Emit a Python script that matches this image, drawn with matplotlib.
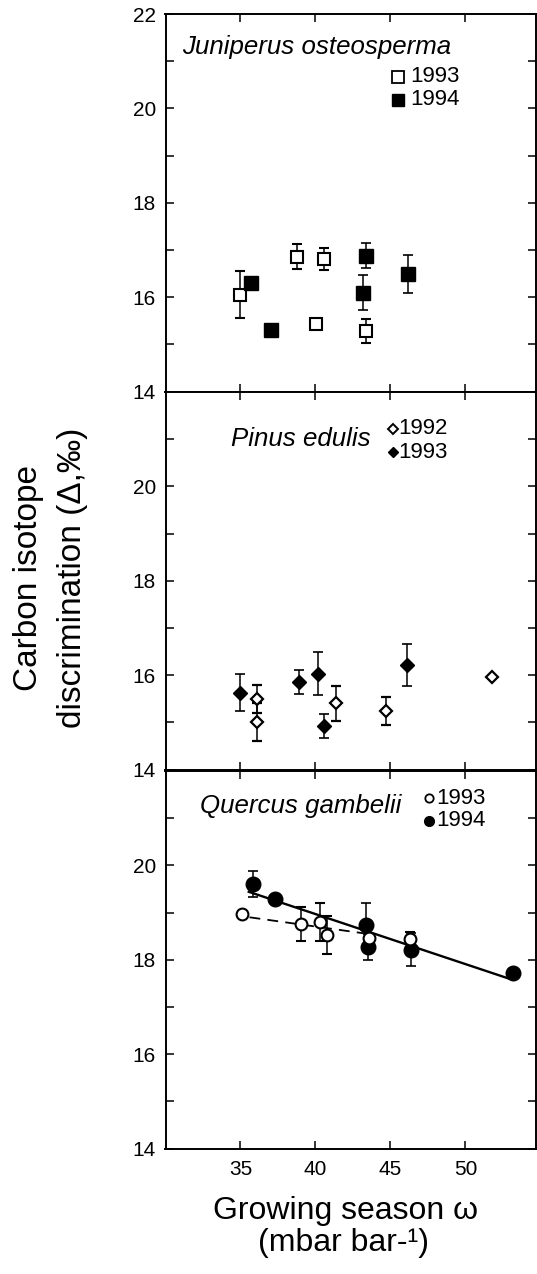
import matplotlib
matplotlib.use("Agg")
import matplotlib.pyplot as plt
import numpy as np

plt.rcParams['font.family'] = ['Liberation Sans', 'DejaVu Sans']

# ---------------- data ----------------
# Juniperus osteosperma
juni93_x = [35.0, 38.8, 40.6, 40.05, 43.4]
juni93_y = [16.05, 16.86, 16.81, 15.42, 15.28]
juni93_e = [0.50, 0.27, 0.24, 0.0, 0.25]
juni94_x = [35.7, 37.05, 43.4, 43.2, 46.2]
juni94_y = [16.30, 15.31, 16.88, 16.09, 16.49]
juni94_e = [0.0, 0.0, 0.26, 0.37, 0.40]

# Pinus edulis
pinu92_x = [36.1, 36.1, 41.4, 44.7, 51.8]
pinu92_y = [15.50, 15.00, 15.40, 15.24, 15.97]
pinu92_e = [0.30, 0.40, 0.38, 0.30, 0.0]
pinu93_x = [35.0, 38.9, 40.15, 40.6, 46.1]
pinu93_y = [15.63, 15.86, 16.03, 14.92, 16.22]
pinu93_e = [0.40, 0.25, 0.45, 0.25, 0.45]

# Quercus gambelii
quer93_x = [35.1, 39.05, 40.3, 40.8, 43.6, 46.3]
quer93_y = [18.98, 18.75, 18.80, 18.52, 18.47, 18.43]
quer93_e = [0.0, 0.36, 0.40, 0.40, 0.0, 0.15]
quer94_x = [35.85, 37.3, 43.35, 43.5, 46.35, 53.2]
quer94_y = [19.61, 19.29, 18.73, 18.27, 18.21, 17.72]
quer94_e = [0.28, 0.0, 0.47, 0.28, 0.35, 0.0]

# regression lines (endpoints)
fit94_x = [35.55, 52.9]
fit94_y = [19.44, 17.60]
fit93_x = [35.6, 43.45]
fit93_y = [18.90, 18.55]

xticks = [35, 40, 45, 50]

# ---------------- figure ----------------
W, H = 537, 1274
fig = plt.figure(figsize=(W / 100, H / 100), dpi=100)

left = 165.5 / W
right = 536.0 / W
tops = [14, 392, 771]
ph = 377.5
axes = []
for t in tops:
    ax = fig.add_axes([left, 1 - (t + ph) / H, right - left, ph / H])
    axes.append(ax)

LW = 1.4
for i, ax in enumerate(axes):
    ax.set_xlim(30, 54.7)
    ax.set_ylim(14, 22)
    ax.set_xticks(xticks)
    if i == 0:
        ax.set_yticks([14, 16, 18, 20, 22])
    else:
        ax.set_yticks([14, 16, 18, 20])
    ax.set_yticks(np.arange(15, 22, 2), minor=True)
    ax.tick_params(axis='both', which='both', direction='in', top=True, right=True,
                   length=6, width=1.1, labelsize=15)
    ax.tick_params(axis='y', pad=7)
    ax.tick_params(axis='x', pad=8)
    if i < 2:
        ax.tick_params(axis='x', labelbottom=False)
    for s in ax.spines.values():
        s.set_linewidth(LW)

eb_kw = dict(ecolor='black', elinewidth=1.1, capsize=3.8, capthick=1.2, linestyle='none', zorder=3)
LEG = 16
SP = 18.6

# Juniperus
ax = axes[0]
ax.errorbar(juni93_x, juni93_y, yerr=juni93_e, marker='s', ms=9, mfc='white', mec='black', mew=1.5, **eb_kw)
ax.errorbar(juni94_x, juni94_y, yerr=juni94_e, marker='s', ms=10, mfc='black', mec='black', **eb_kw)
ax.text(31.1, 21.3, 'Juniperus osteosperma', fontsize=SP, style='italic', va='center', ha='left')
ax.plot([45.5], [20.67], marker='s', ms=8, mfc='white', mec='black', mew=1.3, ls='none')
ax.plot([45.5], [20.18], marker='s', ms=8.5, mfc='black', mec='black', ls='none')
ax.text(46.35, 20.67, '1993', fontsize=LEG, va='center', ha='left')
ax.text(46.35, 20.18, '1994', fontsize=LEG, va='center', ha='left')

# Pinus
ax = axes[1]
ax.errorbar(pinu92_x, pinu92_y, yerr=pinu92_e, marker='D', ms=6, mfc='white', mec='black', mew=1.6, **eb_kw)
ax.errorbar(pinu93_x, pinu93_y, yerr=pinu93_e, marker='D', ms=7, mfc='black', mec='black', **eb_kw)
ax.text(34.35, 21.0, 'Pinus edulis', fontsize=SP, style='italic', va='center', ha='left')
ax.plot([45.15], [21.22], marker='D', ms=4.8, mfc='white', mec='black', mew=1.4, ls='none')
ax.plot([45.15], [20.72], marker='D', ms=5.5, mfc='black', mec='black', ls='none')
ax.text(45.5, 21.22, '1992', fontsize=LEG, va='center', ha='left')
ax.text(45.5, 20.72, '1993', fontsize=LEG, va='center', ha='left')

# Quercus
ax = axes[2]
ax.plot(fit94_x, fit94_y, color='black', lw=1.7, zorder=2)
ax.plot(fit93_x, fit93_y, color='black', lw=1.3, ls=(0, (6, 4)), zorder=2)
ax.errorbar(quer94_x, quer94_y, yerr=quer94_e, marker='o', ms=10.5, mfc='black', mec='black', **eb_kw)
ax.errorbar(quer93_x, quer93_y, yerr=quer93_e, marker='o', ms=8.5, mfc='white', mec='black', mew=1.5, **eb_kw)
ax.text(32.3, 21.25, 'Quercus gambelii', fontsize=SP, style='italic', va='center', ha='left')
ax.plot([47.55], [21.42], marker='o', ms=6, mfc='white', mec='black', mew=1.3, ls='none')
ax.plot([47.55], [20.95], marker='o', ms=7, mfc='black', mec='black', ls='none')
ax.text(48.05, 21.42, '1993', fontsize=LEG, va='center', ha='left')
ax.text(48.05, 20.95, '1994', fontsize=LEG, va='center', ha='left')

# axis labels
fig.text(29 / W, 1 - 578 / H, 'Carbon isotope', rotation=90, fontsize=24, ha='center', va='center')
fig.text(73 / W, 1 - 578 / H, 'discrimination (\u0394,\u2030)', rotation=90, fontsize=24, ha='center', va='center')
fig.text(346 / W, 1 - 1211 / H, 'Growing season \u03c9', fontsize=23, ha='center', va='center')
fig.text(344 / W, 1 - 1243 / H, '(mbar bar-\u00b9)', fontsize=23, ha='center', va='center')

fig.savefig('out.png', dpi=100)
